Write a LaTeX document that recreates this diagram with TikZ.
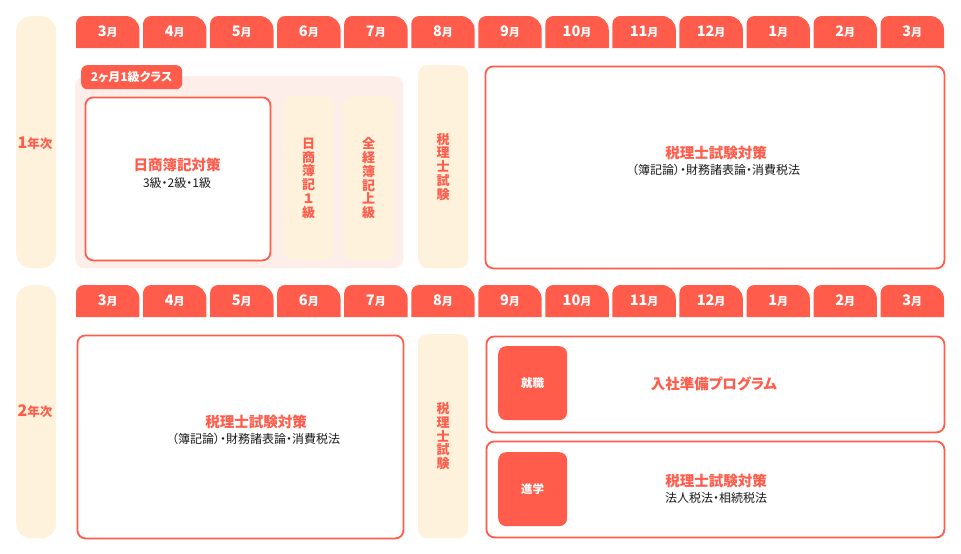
\documentclass[tikz,border=0pt]{standalone}
\usepackage{fontspec}
\setmainfont{Noto Sans CJK JP}[RawFeature=+palt]
\definecolor{tomato}{HTML}{FF5C4B}
\definecolor{cream}{HTML}{FFF2DC}
\definecolor{pinkbg}{HTML}{FEEEEA}
\definecolor{ink}{HTML}{1A1A1A}
\tikzset{
  yearbar/.style={fill=cream, rounded corners=15pt, inner sep=0pt, anchor=north west},
  wbox/.style={draw=tomato, line width=1.8pt, fill=white, rounded corners=8pt, inner sep=0pt, anchor=north west},
  creamcol/.style={fill=cream, rounded corners=9pt, inner sep=0pt, anchor=north west},
  redsq/.style={fill=tomato, rounded corners=8pt, inner sep=0pt, anchor=north west},
  ttl/.style={text=tomato, font=\bfseries\fontsize{14.5}{16}\selectfont, inner sep=0pt},
  subt/.style={text=ink, font=\fontsize{12}{13}\selectfont, inner sep=0pt},
  vtext/.style={text=tomato, font=\bfseries\fontsize{13}{13.8}\selectfont, align=center, inner sep=0pt},
  tablbl/.style={text=white, inner sep=0pt},
}
\newcommand{\mlabel}[1]{{\bfseries\fontsize{14.5}{14}\selectfont #1\fontsize{11}{11}\selectfont 月}}
\begin{document}
\begin{tikzpicture}[x=1pt,y=-1pt]
\useasboundingbox (0,0) rectangle (961,554);

% year bars
\node[yearbar, minimum width=40pt, minimum height=252pt] (y1) at (16,16) {};
\node[yearbar, minimum width=40pt, minimum height=253pt] (y2) at (16,285) {};
\node[text=tomato, inner sep=0pt] (y1l) at (35,143) {\bfseries\fontsize{16}{16}\selectfont 1\fontsize{12.5}{12}\selectfont 年次};
\node[text=tomato, inner sep=0pt] (y2l) at (35,411) {\bfseries\fontsize{16}{16}\selectfont 2\fontsize{12.5}{12}\selectfont 年次};

% month tabs
\foreach \m [count=\i from 0] in {3,4,5,6,7,8,9,10,11,12,1,2,3} {
  \pgfmathsetmacro\xl{76+\i*67.05}
  \foreach \yt/\r in {16/1,285/2} {
    \fill[tomato] (\xl,\yt+32) -- (\xl,\yt+8) arc[start angle=180, end angle=270, radius=8]
      -- (\xl+49.4,\yt) arc[start angle=270, end angle=360, radius=14] -- (\xl+63.4,\yt+32) -- cycle;
    \node[tablbl] (t\r-\i) at (\xl+31.7,\yt+16) {\mlabel{\m}};
  }
}

% ---- year 1 ----
\node[fill=pinkbg, rounded corners=9pt, inner sep=0pt, anchor=north west, minimum width=328pt, minimum height=192pt] (bg1) at (75,76) {};
\node[fill=tomato, rounded corners=6pt, inner sep=0pt, anchor=north west, minimum width=101pt, minimum height=24pt] (cls) at (81,65) {};
\node[text=white, inner sep=0pt, font=\bfseries\fontsize{12}{13}\selectfont] (clsl) at (cls.center) {2ヶ月1級クラス};

\node[wbox, minimum width=185pt, minimum height=163pt] (nissho) at (84.5,96.5) {};
\node[ttl] (nisshot) at (177,165) {日商簿記対策};
\node[subt] (nisshos) at (177,183) {3級・2級・1級};

\node[creamcol, minimum width=51pt, minimum height=164pt] (c1) at (283,96) {};
\node[vtext] (c1t) at (c1.center) {日\\商\\簿\\記\\１\\級};
\node[creamcol, minimum width=51pt, minimum height=164pt] (c2) at (343,96) {};
\node[vtext] (c2t) at (c2.center) {全\\経\\簿\\記\\上\\級};

\node[creamcol, minimum width=50pt, minimum height=203pt] (ex1) at (418,65) {};
\node[vtext] (ex1t) at (ex1.center) {税\\理\\士\\試\\験};

\node[wbox, minimum width=459pt, minimum height=202pt] (tax1) at (484.5,65.5) {};
\node[ttl] (tax1t) at (716,153) {税理士試験対策};
\node[subt] (tax1s) at (716,170) {（簿記論）・財務諸表論・消費税法};

% ---- year 2 ----
\node[wbox, minimum width=326pt, minimum height=203pt] (tax2) at (76.5,334.5) {};
\node[ttl] (tax2t) at (256,422) {税理士試験対策};
\node[subt] (tax2s) at (256,439) {（簿記論）・財務諸表論・消費税法};

\node[creamcol, minimum width=50pt, minimum height=204pt] (ex2) at (418,334) {};
\node[vtext] (ex2t) at (ex2.center) {税\\理\\士\\試\\験};

\node[wbox, minimum width=458pt, minimum height=96pt] (job) at (485.5,335.5) {};
\node[redsq, minimum width=69pt, minimum height=74pt] (jobsq) at (498,346) {};
\node[text=white, inner sep=0pt, font=\bfseries\fontsize{11.5}{12}\selectfont] (jobl) at (jobsq.center) {就職};
\node[ttl] (jobt) at (714,384) {入社準備プログラム};

\node[wbox, minimum width=458pt, minimum height=96pt] (adv) at (485.5,440.5) {};
\node[redsq, minimum width=69pt, minimum height=74pt] (advsq) at (498,452) {};
\node[text=white, inner sep=0pt, font=\bfseries\fontsize{11.5}{12}\selectfont] (advl) at (advsq.center) {進学};
\node[ttl] (advt) at (716,481) {税理士試験対策};
\node[subt] (advs) at (716,498) {法人税法・相続税法};
\end{tikzpicture}
\end{document}
